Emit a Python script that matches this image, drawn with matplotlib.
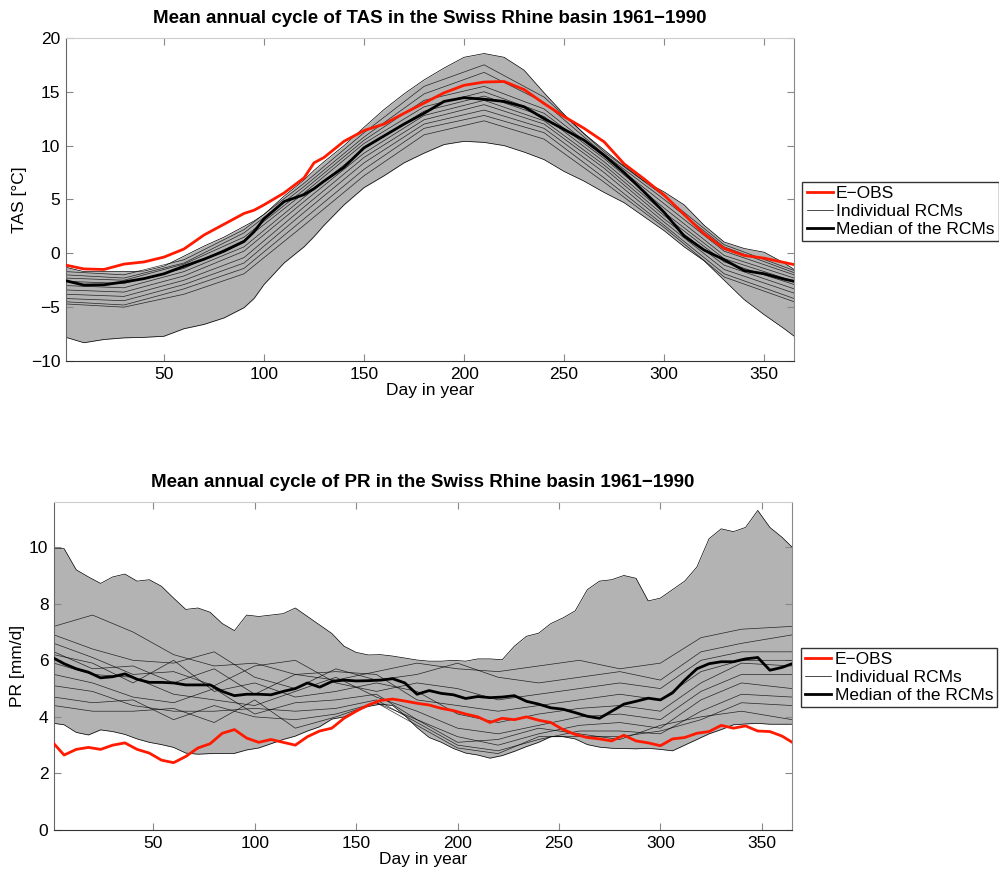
import numpy as np
import matplotlib
matplotlib.use("Agg")
import matplotlib.pyplot as plt

plt.rcParams['font.family'] = ['Liberation Sans', 'DejaVu Sans']

# ---------------- TAS data ----------------
tas_days = [1, 10, 20, 30, 40, 50, 60, 70, 80, 90, 95, 100, 110, 120, 125, 130, 140,
            150, 160, 170, 180, 190, 200, 210, 220, 230, 240, 250, 260, 270, 280, 290,
            300, 310, 320, 330, 340, 350, 360, 365]
tas_eobs = [-1.1, -1.45, -1.5, -1.0, -0.8, -0.35, 0.4, 1.7, 2.7, 3.7, 4.0, 4.5, 5.6, 7.0,
            8.4, 8.9, 10.4, 11.4, 12.0, 13.0, 13.95, 14.9, 15.6, 15.9, 15.95, 15.2, 13.9,
            12.7, 11.6, 10.35, 8.3, 6.9, 5.4, 3.6, 1.8, 0.45, -0.2, -0.45, -0.85, -1.05]
tas_median = [-2.55, -2.95, -2.92, -2.66, -2.35, -1.9, -1.2, -0.55, 0.2, 1.1, 2.0, 3.2,
              4.8, 5.45, 6.0, 6.7, 8.0, 9.8, 10.9, 12.0, 13.0, 14.1, 14.45, 14.3, 14.1,
              13.6, 12.5, 11.5, 10.5, 9.1, 7.5, 5.7, 3.8, 1.6, 0.3, -0.6, -1.6, -1.9,
              -2.4, -2.6]
tas_max = [-1.3, -1.7, -1.7, -1.7, -1.65, -1.2, -0.26, 0.67, 1.5, 2.5, 3.0, 3.6, 5.3,
           6.8, 7.7, 8.5, 10.0, 11.7, 13.35, 14.8, 16.1, 17.2, 18.2, 18.55, 18.2, 17.0,
           14.9, 12.9, 11.1, 9.6, 8.1, 6.7, 5.7, 4.5, 2.6, 1.05, 0.45, 0.1, -0.9, -1.5]
tas_min = [-7.8, -8.3, -8.0, -7.85, -7.8, -7.7, -7.0, -6.6, -6.0, -5.05, -4.2, -2.9,
           -0.9, 0.6, 1.55, 2.6, 4.5, 6.1, 7.2, 8.4, 9.3, 10.1, 10.4, 10.3, 10.0, 9.4,
           8.7, 7.6, 6.7, 5.65, 4.7, 3.4, 2.1, 0.6, -0.7, -2.5, -4.3, -5.7, -7.0, -7.7]

tas_rcm_days = [1, 30, 60, 90, 120, 150, 180, 210, 240, 270, 300, 330, 365]
tas_rcms = [
    [-1.7, -2.0, -0.6, 2.2, 6.5, 11.2, 15.5, 17.5, 14.5, 9.4, 5.3, 0.8, -1.6],
    [-2.0, -2.3, -0.9, 1.9, 6.2, 10.8, 14.8, 16.8, 14.0, 9.2, 5.0, 0.6, -1.8],
    [-2.3, -2.5, -1.0, 1.5, 5.9, 10.5, 14.2, 15.5, 13.4, 9.0, 4.6, 0.2, -2.0],
    [-2.6, -2.8, -1.4, 1.2, 5.6, 10.2, 13.6, 15.0, 13.0, 8.8, 4.2, -0.2, -2.3],
    [-3.0, -3.2, -1.7, 0.6, 5.2, 9.7, 13.2, 14.6, 12.7, 8.5, 3.8, -0.5, -2.6],
    [-3.4, -3.6, -2.1, 0.2, 4.8, 9.3, 12.8, 14.2, 12.3, 8.2, 3.5, -0.8, -2.9],
    [-3.8, -4.0, -2.5, -0.4, 4.3, 8.9, 12.4, 13.8, 12.0, 7.9, 3.2, -1.1, -3.3],
    [-4.2, -4.4, -2.9, -0.9, 3.8, 8.4, 12.0, 13.3, 11.6, 7.5, 2.9, -1.5, -3.7],
    [-4.5, -4.8, -3.3, -1.4, 3.2, 7.8, 11.6, 12.8, 11.2, 7.0, 2.6, -1.9, -4.2],
    [-4.7, -5.0, -3.8, -1.9, 2.6, 7.2, 11.0, 12.3, 10.6, 6.6, 2.4, -2.2, -4.5],
]

# ---------------- PR data ----------------
pr_days = [1, 6, 12, 18, 24, 30, 36, 42, 48, 54, 60, 66, 72, 78, 84, 90, 96, 102, 108,
           114, 120, 126, 132, 138, 144, 150, 156, 162, 168, 174, 180, 186, 192, 198,
           204, 210, 216, 222, 228, 234, 240, 246, 252, 258, 264, 270, 276, 282, 288,
           294, 300, 306, 312, 318, 324, 330, 336, 342, 348, 354, 360, 365]
pr_eobs = [3.05, 2.65, 2.85, 2.92, 2.85, 3.0, 3.08, 2.85, 2.72, 2.47, 2.38, 2.6, 2.9,
           3.05, 3.42, 3.55, 3.25, 3.1, 3.2, 3.1, 3.0, 3.3, 3.5, 3.6, 3.95, 4.2, 4.42,
           4.58, 4.63, 4.56, 4.48, 4.42, 4.3, 4.22, 4.1, 4.0, 3.8, 3.95, 3.9, 4.0, 3.88,
           3.8, 3.55, 3.38, 3.27, 3.22, 3.15, 3.35, 3.15, 3.08, 2.98, 3.22, 3.27, 3.42,
           3.48, 3.7, 3.6, 3.68, 3.5, 3.48, 3.32, 3.1]
pr_median = [6.07, 5.88, 5.7, 5.58, 5.38, 5.42, 5.52, 5.33, 5.22, 5.22, 5.2, 5.13, 5.13,
             5.13, 4.9, 4.75, 4.8, 4.8, 4.78, 4.9, 5.0, 5.2, 5.05, 5.25, 5.3, 5.27, 5.28,
             5.3, 5.35, 5.2, 4.8, 4.93, 4.83, 4.78, 4.65, 4.72, 4.68, 4.7, 4.75, 4.55,
             4.45, 4.32, 4.27, 4.15, 4.02, 3.95, 4.2, 4.45, 4.55, 4.66, 4.6, 4.85, 5.3,
             5.7, 5.88, 5.95, 5.95, 6.05, 6.1, 5.65, 5.75, 5.88]
pr_max = [9.96, 9.95, 9.2, 8.95, 8.72, 8.95, 9.05, 8.8, 8.85, 8.62, 8.2, 7.8, 7.85, 7.7,
          7.3, 7.05, 7.6, 7.55, 7.6, 7.65, 7.85, 7.55, 7.25, 6.95, 6.5, 6.28, 6.19, 6.2,
          6.15, 6.08, 6.01, 5.97, 5.97, 6.0, 5.97, 6.05, 6.05, 6.02, 6.5, 6.85, 6.96,
          7.3, 7.5, 7.75, 8.5, 8.8, 8.85, 9.0, 8.9, 8.1, 8.2, 8.5, 8.8, 9.3, 10.3, 10.65,
          10.55, 10.7, 11.3, 10.7, 10.35, 10.0]
pr_min = [3.77, 3.72, 3.45, 3.36, 3.54, 3.48, 3.38, 3.22, 3.1, 3.02, 2.92, 2.72, 2.68,
          2.7, 2.71, 2.71, 2.83, 2.9, 3.05, 3.2, 3.32, 3.5, 3.65, 3.92, 4.0, 4.22, 4.37,
          4.45, 4.4, 4.05, 3.62, 3.27, 3.1, 2.88, 2.72, 2.65, 2.54, 2.63, 2.78, 2.95,
          3.1, 3.3, 3.3, 3.22, 3.02, 2.93, 2.89, 2.88, 2.87, 2.89, 2.85, 2.8, 3.0, 3.2,
          3.4, 3.55, 3.72, 3.75, 3.77, 3.74, 3.74, 3.74]

pr_rcm_days = [1, 20, 40, 60, 80, 100, 120, 140, 160, 180, 200, 220, 240, 260, 280,
               300, 320, 340, 365]
pr_rcms = [
    [7.2, 7.6, 7.0, 6.2, 5.8, 5.9, 5.5, 5.3, 5.6, 5.9, 5.7, 5.6, 5.8, 6.0, 5.7, 5.9, 6.8, 7.1, 7.2],
    [6.9, 6.4, 6.0, 5.9, 6.3, 5.4, 5.0, 5.7, 5.3, 5.5, 5.9, 5.4, 5.2, 5.4, 5.6, 5.3, 6.3, 6.6, 6.9],
    [6.6, 6.1, 5.5, 5.6, 5.1, 5.8, 6.0, 5.2, 4.9, 5.2, 5.0, 4.6, 4.8, 5.0, 5.2, 5.0, 6.0, 6.3, 6.3],
    [6.3, 5.7, 5.8, 5.2, 5.7, 4.8, 5.5, 5.6, 5.5, 4.6, 4.4, 4.2, 4.4, 4.6, 4.8, 4.6, 5.6, 6.0, 6.0],
    [6.2, 5.9, 5.2, 6.0, 4.9, 5.2, 4.7, 4.9, 5.2, 4.9, 4.1, 3.8, 4.1, 4.3, 4.4, 4.2, 5.2, 5.9, 5.8],
    [5.9, 5.5, 5.4, 4.8, 4.6, 4.4, 4.9, 5.4, 4.7, 4.2, 3.6, 3.4, 3.7, 4.0, 4.1, 3.9, 4.9, 5.5, 5.5],
    [5.5, 5.2, 4.7, 4.5, 5.0, 4.1, 4.5, 4.6, 4.8, 3.9, 3.3, 3.0, 3.4, 3.7, 3.8, 3.6, 4.6, 5.2, 5.0],
    [5.1, 4.9, 4.4, 4.2, 4.2, 4.3, 4.2, 4.3, 4.6, 3.8, 3.0, 2.8, 3.2, 3.5, 3.5, 3.4, 4.2, 4.8, 4.7],
    [4.7, 4.5, 4.6, 3.9, 4.4, 4.0, 3.9, 4.1, 4.5, 3.7, 2.9, 2.7, 3.3, 3.3, 3.3, 3.5, 3.9, 4.5, 4.4],
    [4.4, 4.2, 4.2, 4.3, 3.8, 4.6, 3.6, 4.0, 4.5, 3.9, 3.1, 3.2, 3.6, 3.4, 3.2, 3.7, 4.0, 4.2, 3.9],
]


def draw_panel(ax, days, eobs, median, vmax, vmin, rcm_days, rcms, title, ylabel):
    ax.fill_between(days, vmin, vmax, color='#b3b3b3', lw=0, zorder=1)
    ax.plot(days, vmax, color='black', lw=0.5, zorder=2)
    ax.plot(days, vmin, color='black', lw=0.5, zorder=2)
    for r in rcms:
        ax.plot(rcm_days, r, color='black', lw=0.5, alpha=0.8, zorder=2)
    h_obs, = ax.plot(days, eobs, color='#ff1a00', lw=2.0, zorder=4)
    h_rcm, = ax.plot([], [], color='black', lw=0.5)
    h_med, = ax.plot(days, median, color='black', lw=2.0, zorder=3)
    ax.set_xlim(1, 365)
    ax.set_xticks([50, 100, 150, 200, 250, 300, 350])
    ax.set_title(title, fontsize=13.5, fontweight='bold', pad=11)
    ax.set_xlabel('Day in year', fontsize=12.5, labelpad=1)
    ax.set_ylabel(ylabel, fontsize=12.5, labelpad=3)
    ax.tick_params(direction='in', length=5, width=0.8, color='#888888',
                   labelsize=12.5, top=True, right=True, pad=4)
    ax.spines['left'].set_color('#666666')
    ax.spines['bottom'].set_color('#333333')
    ax.spines['top'].set_color('#cccccc')
    ax.spines['right'].set_color('#888888')
    return h_obs, h_rcm, h_med


fig = plt.figure(figsize=(9.99, 8.71), dpi=100)

ax1 = fig.add_axes([0.066, 0.5855, 0.729, 0.371])
handles = draw_panel(ax1, tas_days, tas_eobs, tas_median, tas_max, tas_min,
                     tas_rcm_days, tas_rcms,
                     'Mean annual cycle of TAS in the Swiss Rhine basin 1961\u22121990',
                     'TAS [\u00b0C]')
ax1.set_ylim(-10, 20)
ax1.set_yticks([-10, -5, 0, 5, 10, 15, 20])

ax2 = fig.add_axes([0.054, 0.0471, 0.739, 0.3766])
handles2 = draw_panel(ax2, pr_days, pr_eobs, pr_median, pr_max, pr_min,
                      pr_rcm_days, pr_rcms,
                      'Mean annual cycle of PR in the Swiss Rhine basin 1961\u22121990',
                      'PR [mm/d]')
ax2.set_ylim(0, 11.6)
ax2.set_yticks([0, 2, 4, 6, 8, 10])

labels = ['E\u2212OBS', 'Individual RCMs', 'Median of the RCMs']
for ax, hs, anchor in [(ax1, handles, (0.804, 0.7176, 0.195, 0.079)),
                       (ax2, handles2, (0.801, 0.1825, 0.198, 0.079))]:
    leg = fig.legend(hs, labels, loc='center', bbox_to_anchor=anchor,
                     fontsize=12.5, frameon=True, fancybox=False, handlelength=1.5,
                     handletextpad=0.2, borderpad=0.25, labelspacing=0.15,
                     borderaxespad=0)
    leg.get_frame().set_edgecolor('black')
    leg.get_frame().set_linewidth(1.0)

fig.savefig('out.png', dpi=100)
